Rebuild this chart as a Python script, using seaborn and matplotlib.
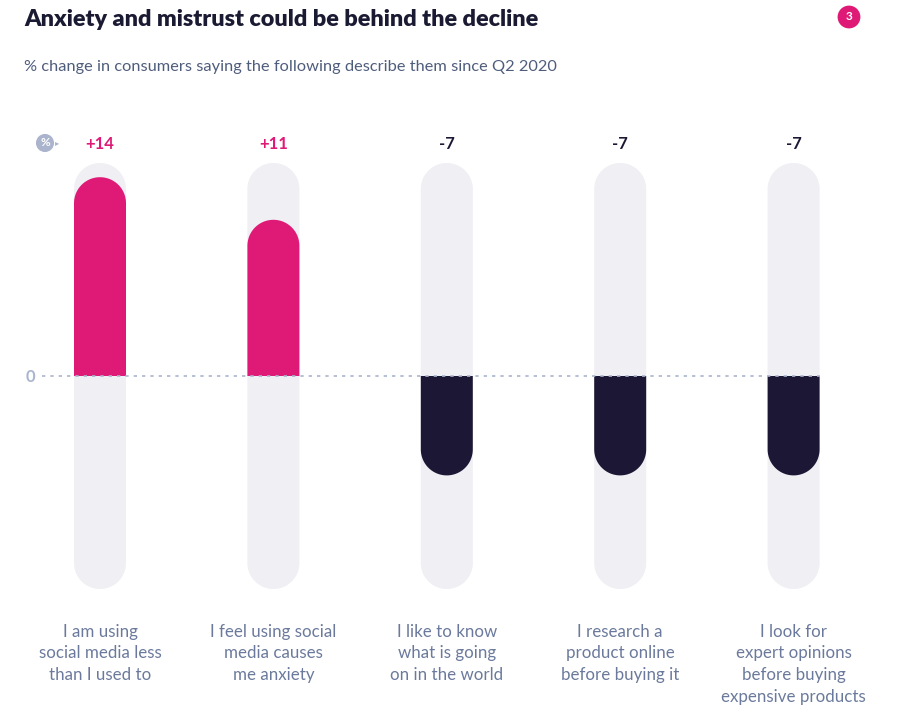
"""
plot.py - Rounded "pill" bar chart: % change in consumer attitudes since Q2 2020
"""

import matplotlib
matplotlib.use("Agg")
import matplotlib.pyplot as plt
from matplotlib.patches import Polygon
import numpy as np
import pandas as pd
import seaborn as sns

# ── Data ───────────────────────────────────────────────────────────────────────
categories = [
    "I am using\nsocial media less\nthan I used to",
    "I feel using social\nmedia causes\nme anxiety",
    "I like to know\nwhat is going\non in the world",
    "I research a\nproduct online\nbefore buying it",
    "I look for\nexpert opinions\nbefore buying\nexpensive products",
]
values = [14, 11, -7, -7, -7]
track_max = 15

PINK = "#df1a76"
NAVY = "#1c1734"
TRACK = "#efeff4"
MUTED = "#6b7a9c"
TITLE = "#1a1a33"

sns.set_theme(style="white")
plt.rcParams["font.family"] = ["Lato", "DejaVu Sans"]

df = pd.DataFrame({"label": categories, "value": values})
df["pos"] = [v if v > 0 else 0 for v in values]
df["neg"] = [v if v < 0 else 0 for v in values]

W, H = 900, 717
fig = plt.figure(figsize=(W / 100, H / 100), dpi=100)
fig.patch.set_facecolor("white")

# axes placement in pixels
ax_left, ax_right = 60, 860
ax_top, ax_bot = 150, 600
ax = fig.add_axes([ax_left / W, 1 - ax_bot / H,
                   (ax_right - ax_left) / W, (ax_bot - ax_top) / H])

step = 173.4                      # px between bar centres
x_lo = -(100 - ax_left) / step
x_hi = x_lo + (ax_right - ax_left) / step
ppu = 14.2                        # px per value unit
y_hi = (376 - ax_top) / ppu
y_lo = -(ax_bot - 376) / ppu

bw = 52 / step

# background tracks (upper and lower halves) and value bars
sns.barplot(data=df, x="label", y=[track_max] * 5, color=TRACK, width=bw,
            saturation=1, ax=ax, zorder=1)
sns.barplot(data=df, x="label", y=[-track_max] * 5, color=TRACK, width=bw,
            saturation=1, ax=ax, zorder=1)
sns.barplot(data=df, x="label", y="pos", color=PINK, width=bw,
            saturation=1, ax=ax, zorder=2)
sns.barplot(data=df, x="label", y="neg", color=NAVY, width=bw,
            saturation=1, ax=ax, zorder=2)

ax.set_xlim(x_lo, x_hi)
ax.set_ylim(y_lo, y_hi)

# swap each bar for a pill shape: flat at zero, semicircular at the outer end
aspect = step / ppu               # y units per x unit for equal pixels
t = np.linspace(0, np.pi, 60)
for p in list(ax.patches):
    h = p.get_height()
    if h == 0:
        p.remove()
        continue
    x0, w = p.get_x(), p.get_width()
    rx = w / 2
    ry = rx * aspect
    sgn = np.sign(h)
    yc = h - sgn * ry
    xs = np.concatenate([[x0], x0 + rx - rx * np.cos(t), [x0 + w]])
    ys = np.concatenate([[0], yc + sgn * ry * np.sin(t), [0]])
    pill = Polygon(np.column_stack([xs, ys]), closed=True,
                   facecolor=p.get_facecolor(), edgecolor="none",
                   zorder=p.get_zorder())
    ax.add_patch(pill)
    p.set_visible(False)

# zero line
ax.plot([x_lo + (42 - ax_left) / step, 4 + bw / 2], [0, 0], ls=(0, (2, 3)),
        color="#a9b6cf", lw=1.2, zorder=3, clip_on=False)

# value labels
for i, v in enumerate(values):
    ax.text(i, (376 - 144) / ppu, f"{v:+d}", ha="center", va="center",
            fontsize=12, fontweight="bold", color=PINK if v > 0 else NAVY)

# axes cosmetics
ax.set_xlabel("")
ax.set_ylabel("")
ax.set_yticks([0])
ax.set_yticklabels(["0"], color="#a9b6cf", fontsize=12, fontweight="bold")
ax.tick_params(axis="y", length=0, pad=18)
ax.tick_params(axis="x", length=0, pad=17)
ax.set_xticks(range(5))
ax.set_xticklabels(categories, color=MUTED, fontsize=12.2, linespacing=1.45,
                   va="top")
for s in ax.spines.values():
    s.set_visible(False)

# "%" badge
fig.text(45 / W, 1 - 143 / H, "%", ha="center", va="center", fontsize=8.5,
         fontweight="bold", color="white",
         bbox=dict(boxstyle="circle,pad=0.3", fc="#aab4cc", ec="none"))
fig.text(57 / W, 1 - 143 / H, "\u25B8", ha="center", va="center", fontsize=6,
         color="#aab4cc")

# titles
fig.text(24 / W, 1 - 20 / H, "Anxiety and mistrust could be behind the decline",
         ha="left", va="center", fontsize=16.8, fontweight="heavy", color=TITLE)
fig.text(24 / W, 1 - 67 / H,
         "% change in consumers saying the following describe them since Q2 2020",
         ha="left", va="center", fontsize=11.8, color="#4f5d7c")

# page badge
fig.text(849 / W, 1 - 17 / H, "3", ha="center", va="center", fontsize=8.5,
         fontweight="bold", color="white",
         bbox=dict(boxstyle="circle,pad=0.5", fc=PINK, ec="none"))

plt.savefig("out.png", dpi=100, facecolor=fig.get_facecolor())
plt.close()
